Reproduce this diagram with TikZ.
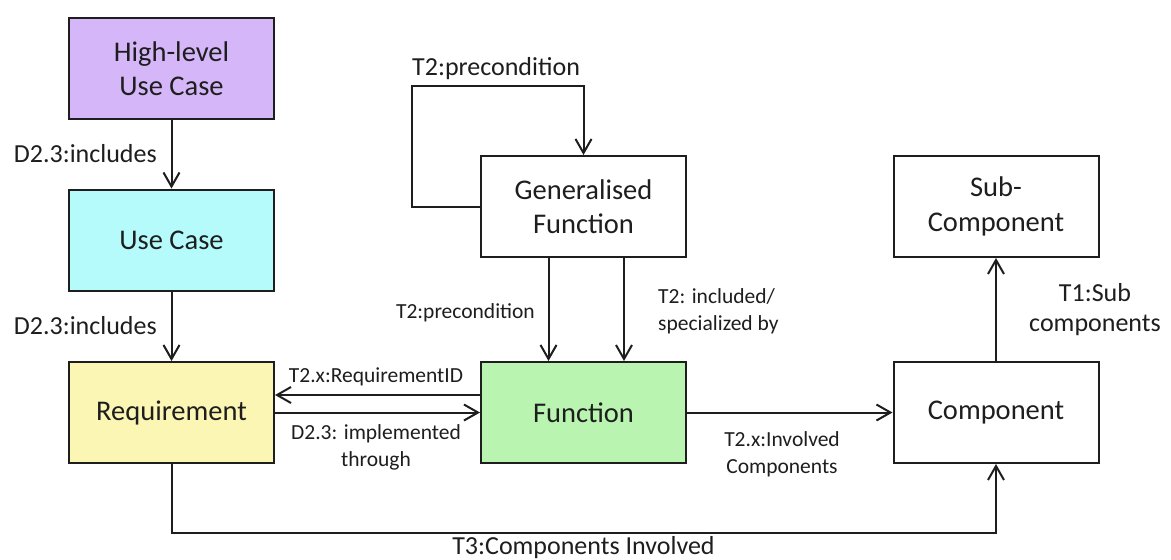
\documentclass[tikz,border=0pt]{standalone}
\usepackage{fontspec}
\setmainfont{Carlito}
\usetikzlibrary{arrows.meta}
\definecolor{hlpurple}{HTML}{D5B6F8}
\definecolor{uccyan}{HTML}{B5FBFB}
\definecolor{reqyellow}{HTML}{FBF6B3}
\definecolor{fngreen}{HTML}{B9F5B1}
\definecolor{ink}{HTML}{1E1E1E}
\begin{document}
\begin{tikzpicture}[x=1pt,y=-1pt,
  box/.style={draw=ink, line width=2pt, minimum width=205pt, minimum height=101pt,
    inner sep=0pt, align=center, text=ink, font=\fontsize{28.5}{34.5}\selectfont},
  conn/.style={draw=ink, line width=2pt, -{Straight Barb[length=14pt,width=16pt,line width=2pt]}},
  lbig/.style={inner sep=0pt, text=ink, font=\fontsize{26}{30}\selectfont},
  lsmall/.style={inner sep=0pt, text=ink, font=\fontsize{21.5}{26.5}\selectfont}]
\useasboundingbox[fill=white] (0,0) rectangle (1171,560);

% entity boxes
\node[box, fill=hlpurple]  (hl)   at (171.5,68.5)  {High-level\\Use Case};
\node[box, fill=uccyan]    (uc)   at (171.5,240)   {Use Case};
\node[box, fill=reqyellow] (req)  at (171.5,412.5) {Requirement};
\node[box, fill=white]     (gf)   at (583.5,206.5) {Generalised\\Function};
\node[box, fill=fngreen]   (fn)   at (583.5,412.5) {Function};
\node[box, fill=white]     (sub)  at (996,206.5)   {Sub-\\Component};
\node[box, fill=white]     (comp) at (996,412.5)   {Component};

% relations
\draw[conn] (hl) -- (uc);
\draw[conn] (uc) -- (req);
\coordinate (lc) at (412,86);
\draw[conn] (gf.west) -| (lc) -| (gf.north);
\draw[conn] ([xshift=-35pt]gf.south) -- ([xshift=-35pt]fn.north);
\draw[conn] ([xshift=40.5pt]gf.south) -- ([xshift=40.5pt]fn.north);
\draw[conn] ([yshift=17.5pt]fn.west) -- ([yshift=17.5pt]req.east);
\draw[conn] (req.east) -- (fn.west);
\draw[conn] (fn) -- (comp);
\draw[conn] (comp) -- (sub);
\coordinate (bc) at (583.5,533);
\draw[conn] (req.south) |- (bc) -| (comp.south);

% relation labels (base anchor of a two-line label = last line's baseline)
\node[lbig, anchor=base east] (l1) at (157,162) {D2.3:includes};
\node[lbig, anchor=base east] (l2) at (157,334) {D2.3:includes};
\node[lbig, anchor=base west] (l3) at (412,75) {T2:precondition};
\node[lsmall, anchor=base east] (l4) at (535,318) {T2:precondition};
\node[lsmall, anchor=base west, align=left] (l5) at (658,330) {T2: included/\\specialized by};
\node[lsmall, anchor=base] (l6) at (376,382) {T2.x:RequirementID};
\node[lsmall, anchor=base, align=center] (l7) at (376,466) {D2.3: implemented\\through};
\node[lsmall, anchor=base, align=center] (l8) at (782,473) {T2.x:Involved\\Components};
\node[lbig, anchor=base, align=center] (l9) at (1095,331) {T1:Sub\\components};
\node[lbig, anchor=base] (l10) at (583.5,554) {T3:Components Involved};
\end{tikzpicture}
\end{document}
